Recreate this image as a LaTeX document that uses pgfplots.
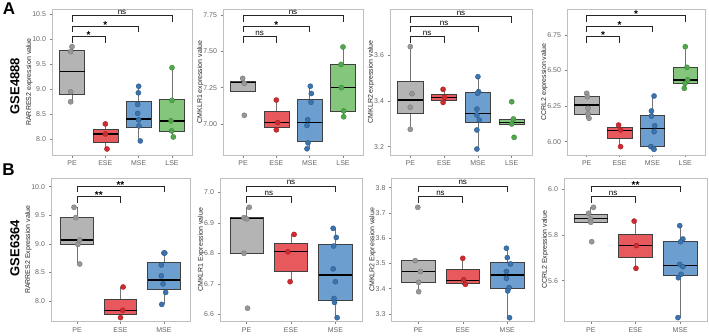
\documentclass[border=0pt]{standalone}
\usepackage{fontspec}
\setmainfont{Liberation Sans}
\usepackage{pgfplots}
\pgfplotsset{compat=1.18}

% group colours: box fill and point colour
\definecolor{peF}{HTML}{B4B4B4}
\definecolor{peD}{HTML}{979797}
\definecolor{eseF}{HTML}{E8595D}
\definecolor{eseD}{HTML}{CF2A2F}
\definecolor{mseF}{HTML}{6C9FD0}
\definecolor{mseD}{HTML}{3A73AD}
\definecolor{lseF}{HTML}{84C77C}
\definecolor{lseD}{HTML}{4FA84A}

\pgfplotsset{
  panel/.style={
    scale only axis, clip=false,
    axis line style={draw=black!25, line width=0.6pt},
    tick style={draw=black!50, line width=0.5pt},
    major tick length=2.5pt,
    tick align=outside,
    xtick pos=left, ytick pos=left,
    minor tick num=0,
    scaled y ticks=false,
    ticklabel style={font=\fontsize{7}{8}\selectfont, text=black!60},
    ylabel style={font=\fontsize{7}{8}\selectfont, text=black!85, yshift=-7pt},
    /pgf/number format/assume math mode=true,
  },
  rowA/.style={panel, height=146pt, xmin=0.4, xmax=4.6,
    xtick={1,2,3,4}, xticklabels={PE,ESE,MSE,LSE}},
  rowB/.style={panel, height=143.5pt, xmin=0.4, xmax=3.6,
    xtick={1,2,3}, xticklabels={PE,ESE,MSE}},
  prec/.style={yticklabel style={/pgf/number format/.cd, fixed, fixed zerofill, precision=#1}},
}

% box plot from its statistics: position, lower whisker, lower quartile,
% median, upper quartile, upper whisker, fill colour
\newcommand{\bx}[7]{%
  \pgfmathsetmacro\xl{#1-0.375}\pgfmathsetmacro\xr{#1+0.375}%
  \addplot[draw=black!55, line width=0.8pt] coordinates {(#1,#2) (#1,#3)};
  \addplot[draw=black!55, line width=0.8pt] coordinates {(#1,#5) (#1,#6)};
  \addplot[fill=#7, draw=black!75, line width=0.6pt]
    coordinates {(\xl,#3) (\xr,#3) (\xr,#5) (\xl,#5)} -- cycle;
  \addplot[draw=black, line width=1.3pt] coordinates {(\xl,#4) (\xr,#4)};}
% jittered observations
\newcommand{\pts}[2]{%
  \addplot[only marks, mark=*, mark size=2.6pt,
    mark options={fill=#1, draw=#1!75!black, line width=0.3pt}] coordinates {#2};}
% significance bracket from group 1 to group #1, at height #2, label #4
\newcommand{\brk}[5]{%
  \draw[black!85, line width=0.6pt] ([yshift=-6pt]axis cs:1,#2) -- (axis cs:1,#2)
    -- (axis cs:#1,#2) -- ([yshift=-6pt]axis cs:#1,#2);
  \node[anchor=base, inner sep=0pt, yshift=#5,
    font=\fontsize{8}{8}\selectfont] at (axis cs:#3,#2) {#4};}
\newcommand{\ns}[3]{\brk{#1}{#2}{#3}{ns}{1.2pt}}
\newcommand{\st}[4]{\brk{#1}{#2}{#3}{\fontsize{10}{10}\selectfont\bfseries #4}{-2pt}}

\begin{document}
\begin{tikzpicture}
\useasboundingbox (0,0) rectangle (709pt,335pt);

\node[font=\bfseries\fontsize{17}{17}\selectfont] at (9pt,326pt) {A};
\node[font=\bfseries\fontsize{17}{17}\selectfont] at (8.5pt,165.5pt) {B};
\node[rotate=90, font=\bfseries\fontsize{13}{13}\selectfont] at (15pt,249pt) {GSE4888};
\node[rotate=90, font=\bfseries\fontsize{13}{13}\selectfont] at (15pt,87pt) {GSE6364};

% ---------------- GSE4888 ----------------
\begin{axis}[rowA, prec=1, at={(52pt,180pt)}, anchor=south west, width=140pt,
  ymin=7.69, ymax=10.60, ytick={8,8.5,9,9.5,10,10.5},
  ylabel={RARRES2 expression value}]
  \bx{1}{8.75}{8.89}{9.35}{9.77}{9.85}{peF}
  \bx{2}{7.81}{7.95}{8.11}{8.21}{8.31}{eseF}
  \bx{3}{7.97}{8.25}{8.41}{8.76}{9.06}{mseF}
  \bx{4}{8.05}{8.17}{8.37}{8.80}{9.43}{lseF}
  \pts{peD}{(1.00,9.85) (0.96,9.75) (0.96,8.95) (0.96,8.75)}
  \pts{eseD}{(2.00,8.31) (2.00,8.11) (2.05,7.81)}
  \pts{mseD}{(3.00,9.06) (2.99,8.93) (2.97,8.70) (2.97,8.52) (3.00,8.39) (3.01,8.27) (3.05,7.97)}
  \pts{lseD}{(4.00,9.43) (4.00,8.78) (3.97,8.37) (3.99,8.17) (4.04,8.05)}
  \st{2}{10.05}{1.5}{*}
  \st{3}{10.26}{2}{*}
  \ns{4}{10.47}{2.5}
\end{axis}

\begin{axis}[rowA, prec=2, at={(223pt,180pt)}, anchor=south west, width=140pt,
  ymin=6.787, ymax=7.791, ytick={7,7.25,7.5,7.75},
  ylabel={CMKLR1 expression value}]
  \bx{1}{7.227}{7.227}{7.287}{7.294}{7.314}{peF}
  \bx{2}{6.96}{6.98}{7.01}{7.087}{7.165}{eseF}
  \bx{3}{6.83}{6.878}{7.01}{7.167}{7.26}{mseF}
  \bx{4}{7.05}{7.085}{7.25}{7.41}{7.53}{lseF}
  \pts{peD}{(0.99,7.314) (1.04,7.28) (1.04,7.06)}
  \pts{eseD}{(2.00,7.165) (2.04,7.01) (2.00,6.96)}
  \pts{mseD}{(3.02,7.26) (3.05,7.21) (3.04,7.15) (2.94,7.03) (2.92,6.99) (2.95,6.87) (2.92,6.83)}
  \pts{lseD}{(4.00,7.53) (3.94,7.41) (3.95,7.25) (4.02,7.09) (4.02,7.05)}
  \ns{2}{7.60}{1.5}
  \st{3}{7.674}{2}{*}
  \ns{4}{7.745}{2.5}
\end{axis}

\begin{axis}[rowA, prec=1, at={(390pt,180pt)}, anchor=south west, width=142pt,
  ymin=3.164, ymax=3.80, ytick={3.2,3.4,3.6},
  ylabel={CMKLR2 expression value}]
  \bx{1}{3.276}{3.345}{3.404}{3.484}{3.636}{peF}
  \bx{2}{3.393}{3.404}{3.415}{3.43}{3.45}{eseF}
  \bx{3}{3.19}{3.305}{3.345}{3.436}{3.505}{mseF}
  \bx{4}{3.299}{3.299}{3.306}{3.321}{3.321}{lseF}
  \pts{peD}{(1.00,3.636) (1.05,3.431) (1.00,3.372) (1.00,3.276)}
  \pts{eseD}{(1.97,3.45) (2.01,3.415) (1.97,3.393)}
  \pts{mseD}{(3.00,3.505) (3.02,3.44) (2.99,3.433) (2.97,3.364) (2.97,3.338) (3.04,3.316) (2.97,3.273) (2.97,3.19)}
  \pts{lseD}{(4.00,3.396) (4.05,3.321) (4.00,3.299) (4.07,3.241)}
  \ns{2}{3.68}{1.5}
  \ns{3}{3.724}{2}
  \ns{4}{3.767}{2.5}
\end{axis}

\begin{axis}[rowA, prec=2, at={(567pt,180pt)}, anchor=south west, width=138pt,
  ymin=5.906, ymax=6.933, ytick={6,6.25,6.5,6.75},
  ylabel={CCRL2 expression value}]
  \bx{1}{6.164}{6.195}{6.258}{6.316}{6.345}{peF}
  \bx{2}{5.965}{6.023}{6.077}{6.098}{6.12}{eseF}
  \bx{3}{5.946}{5.965}{6.094}{6.187}{6.321}{mseF}
  \bx{4}{6.375}{6.41}{6.434}{6.523}{6.668}{lseF}
  \pts{peD}{(1.00,6.34) (1.02,6.316) (1.04,6.234) (1.04,6.195) (1.07,6.164)}
  \pts{eseD}{(1.97,6.117) (2.03,6.082) (2.03,5.965)}
  \pts{mseD}{(3.05,6.321) (2.97,6.216) (2.97,6.18) (3.07,6.112) (3.05,6.07) (2.95,5.965) (3.03,5.953) (3.05,5.946)}
  \pts{lseD}{(4.00,6.668) (4.05,6.523) (4.07,6.434) (3.99,6.41) (3.97,6.375)}
  \st{2}{6.738}{1.5}{*}
  \st{3}{6.813}{2}{*}
  \st{4}{6.886}{2.5}{*}
\end{axis}

% ---------------- GSE6364 ----------------
\begin{axis}[rowB, prec=1, at={(51pt,13.5pt)}, anchor=south west, width=139pt,
  ymin=7.641, ymax=10.152, ytick={8,8.5,9,9.5,10},
  ylabel={RARRES2 Expression value}]
  \bx{1}{8.647}{8.991}{9.067}{9.464}{9.64}{peF}
  \bx{2}{7.71}{7.773}{7.83}{8.035}{8.245}{eseF}
  \bx{3}{7.94}{8.21}{8.367}{8.676}{8.84}{mseF}
  \pts{peD}{(0.93,9.64) (0.97,9.46) (1.06,9.067) (1.02,8.99) (1.06,8.647)}
  \pts{eseD}{(2.06,8.245) (2.05,7.837) (2.00,7.71)}
  \pts{mseD}{(3.00,8.84) (3.02,8.84) (2.94,8.63) (2.94,8.44) (2.98,8.30) (3.04,8.15) (2.95,7.94)}
  \st{2}{9.825}{1.5}{**}
  \st{3}{10.01}{2}{**}
\end{axis}

\begin{axis}[rowB, prec=1, at={(220pt,13.5pt)}, anchor=south west, width=142pt,
  ymin=6.5765, ymax=7.047, ytick={6.6,6.7,6.8,6.9,7.0},
  ylabel={CMKLR1 Expression value}]
  \bx{1}{6.80}{6.80}{6.915}{6.917}{6.951}{peF}
  \bx{2}{6.707}{6.742}{6.805}{6.832}{6.862}{eseF}
  \bx{3}{6.589}{6.647}{6.729}{6.831}{6.882}{mseF}
  \pts{peD}{(1.06,6.951) (0.94,6.917) (1.00,6.913) (0.94,6.80) (1.02,6.62)}
  \pts{eseD}{(2.07,6.862) (1.93,6.805) (1.98,6.707)}
  \pts{mseD}{(2.95,6.882) (3.02,6.852) (2.96,6.824) (2.95,6.749) (3.00,6.707) (2.97,6.652) (2.98,6.639) (3.04,6.589)}
  \ns{2}{6.986}{1.5}
  \ns{3}{7.021}{2}
\end{axis}

\begin{axis}[rowB, prec=1, at={(391.5pt,13.5pt)}, anchor=south west, width=142.5pt,
  ymin=3.270, ymax=3.838, ytick={3.3,3.4,3.5,3.6,3.7,3.8},
  ylabel={CMKLR2 Expression value}]
  \bx{1}{3.388}{3.425}{3.468}{3.511}{3.511}{peF}
  \bx{2}{3.415}{3.421}{3.432}{3.477}{3.52}{eseF}
  \bx{3}{3.285}{3.40}{3.454}{3.504}{3.56}{mseF}
  \pts{peD}{(0.99,3.722) (0.93,3.511) (1.05,3.468) (1.01,3.425) (1.01,3.388)}
  \pts{eseD}{(2.00,3.52) (2.02,3.435) (2.06,3.417)}
  \pts{mseD}{(2.98,3.56) (3.00,3.523) (3.07,3.498) (2.98,3.468) (2.98,3.441) (3.04,3.404) (3.01,3.391) (3.05,3.285)}
  \ns{2}{3.764}{1.5}
  \ns{3}{3.807}{2}
\end{axis}

\begin{axis}[rowB, prec=1, at={(564pt,13.5pt)}, anchor=south west, width=143pt,
  ymin=5.422, ymax=6.048, ytick={5.6,5.8,6.0},
  ylabel={CCRL2 Expression value}]
  \bx{1}{5.855}{5.855}{5.872}{5.891}{5.92}{peF}
  \bx{2}{5.654}{5.70}{5.753}{5.804}{5.86}{eseF}
  \bx{3}{5.439}{5.622}{5.665}{5.773}{5.84}{mseF}
  \pts{peD}{(1.06,5.92) (0.95,5.894) (0.99,5.869) (1.00,5.855) (1.02,5.77)}
  \pts{eseD}{(1.97,5.86) (2.02,5.753) (2.01,5.654)}
  \pts{mseD}{(2.99,5.84) (3.06,5.782) (3.01,5.77) (2.99,5.671) (3.06,5.661) (3.02,5.628) (2.96,5.613) (2.95,5.439)}
  \ns{2}{5.967}{1.5}
  \st{3}{6.013}{2}{**}
\end{axis}
\end{tikzpicture}
\end{document}
